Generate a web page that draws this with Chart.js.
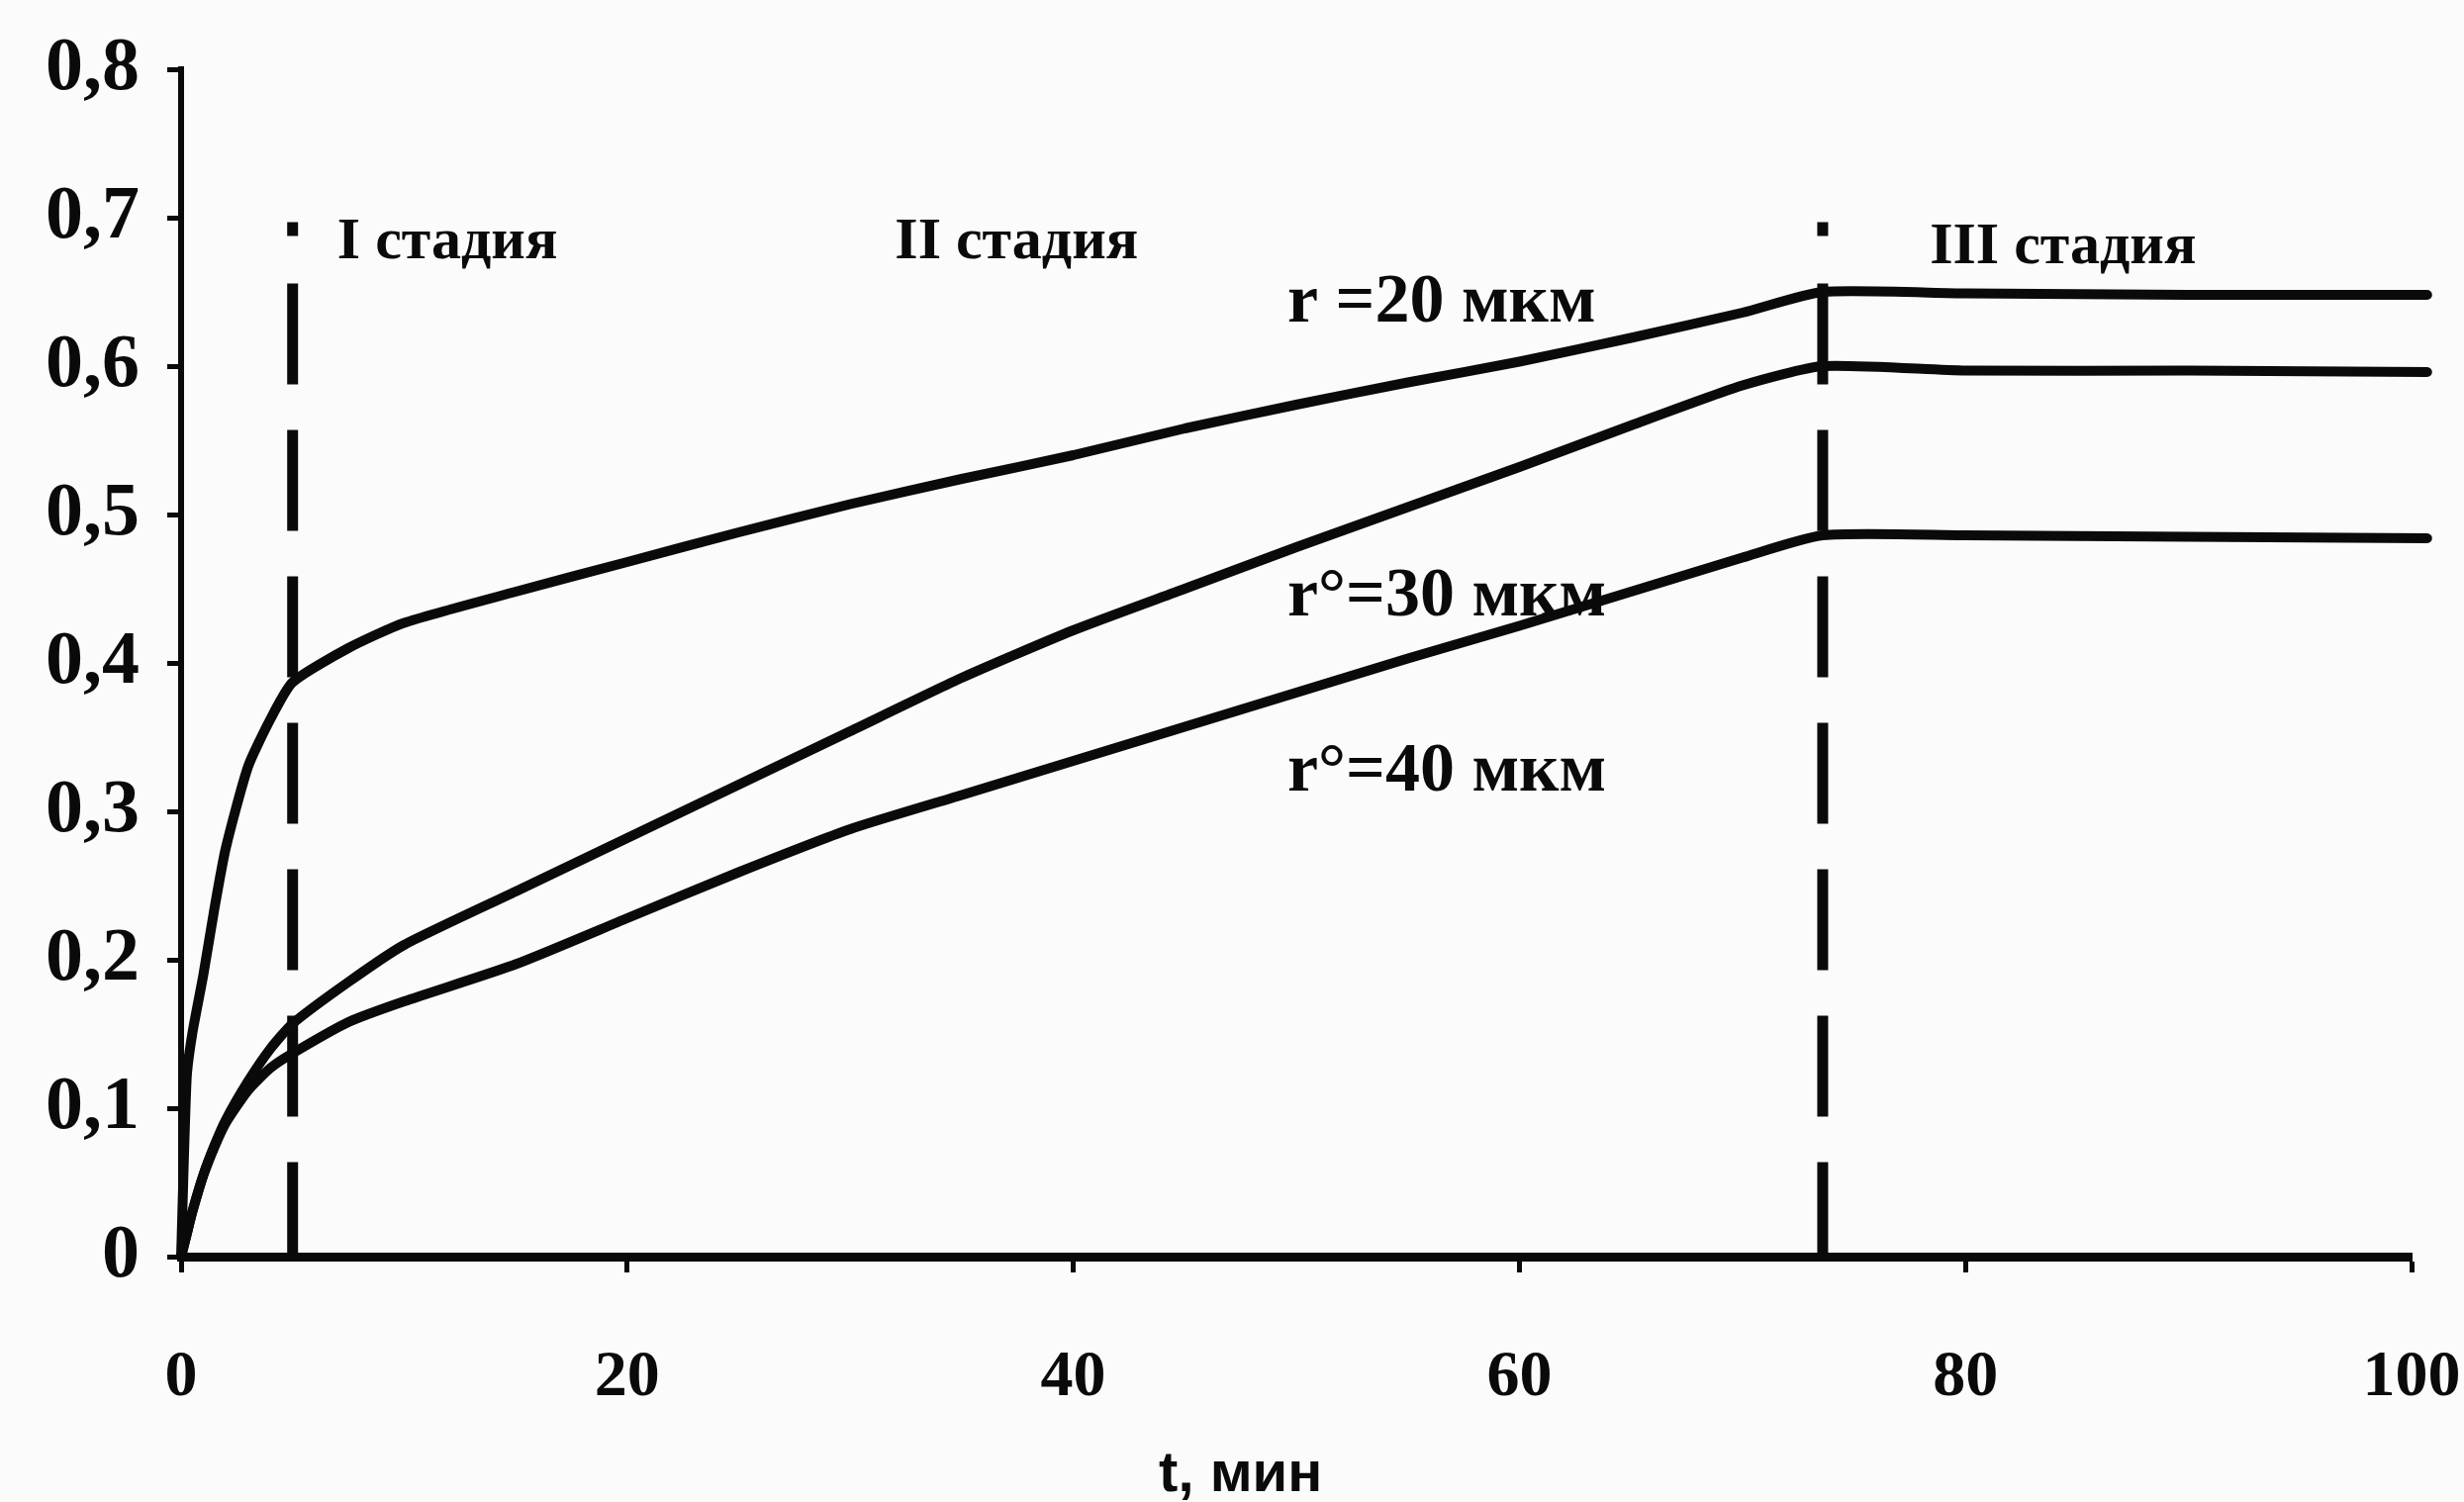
<!DOCTYPE html>
<html>
<head>
<meta charset="utf-8">
<script src="https://cdn.jsdelivr.net/npm/chart.js@4.4.1/dist/chart.umd.min.js"></script>
<style>
  html, body { margin: 0; padding: 0; background: #fbfbfb; }
  canvas { display: block; }
</style>
</head>
<body>
<canvas id="chart" width="2490" height="1518"></canvas>
<script>
// time, min (curves run a little past the last tick)
const timeMin = [0, 0.25, 0.5, 1, 1.5, 2, 3, 4, 5, 7.5, 10, 15, 20, 25, 30, 35, 40, 45, 50, 55, 60, 65, 70, 73.6, 80, 90, 100.7];

// r0 = 20 um
const r20 = [0, 0.12, 0.15, 0.19, 0.235, 0.275, 0.33, 0.362, 0.387, 0.41, 0.427, 0.448, 0.468, 0.488, 0.507, 0.524, 0.54, 0.558, 0.574, 0.589, 0.603, 0.619, 0.636, 0.65, 0.649, 0.648, 0.648];
// r0 = 30 um
const r30 = [0, 0.015, 0.03, 0.055, 0.075, 0.092, 0.118, 0.14, 0.157, 0.185, 0.21, 0.246, 0.282, 0.318, 0.354, 0.39, 0.422, 0.45, 0.478, 0.505, 0.532, 0.56, 0.587, 0.6, 0.597, 0.597, 0.596];
// r0 = 40 um
const r40 = [0, 0.015, 0.03, 0.055, 0.074, 0.09, 0.112, 0.127, 0.137, 0.158, 0.172, 0.197, 0.228, 0.259, 0.288, 0.311, 0.334, 0.357, 0.38, 0.403, 0.425, 0.448, 0.471, 0.486, 0.486, 0.485, 0.484];

// stage boundaries (min) and top of the dashed markers
const stageBounds = [5, 73.6];
const stageTop = 0.697;

const stageLabels = ["I стадия", "II стадия", "III стадия"];
const curveLabels = ["r =20 мкм", "r°=30 мкм", "r°=40 мкм"];
const xTitle = "t, мин";

const xTicks = [0, 20, 40, 60, 80, 100];
const yTicks = [0, 0.1, 0.2, 0.3, 0.4, 0.5, 0.6, 0.7, 0.8];

const INK = "#0a0a0a";

function toPoints(ys) {
  return timeMin.map((t, i) => ({ x: t, y: ys[i] }));
}

// dot first, then long dashes
const stageDash = [14, 48].concat(Array(10).fill([102, 46]).flat());

const stageSets = stageBounds.map((t) => ({
  data: [{ x: t, y: stageTop }, { x: t, y: 0 }],
  borderColor: INK,
  borderWidth: 11,
  borderDash: stageDash,
  borderCapStyle: "butt",
  pointRadius: 0,
  clip: false,
}));

const curveSets = [r20, r30, r40].map((ys) => ({
  data: toPoints(ys),
  borderColor: INK,
  borderWidth: 10,
  pointRadius: 0,
  tension: 0.2,
  borderJoinStyle: "round",
  borderCapStyle: "round",
  clip: false,
}));

// text placed in data units
const textPlugin = {
  id: "notes",
  afterDraw(chart) {
    const { ctx, scales: { x, y } } = chart;
    ctx.save();
    ctx.fillStyle = INK;
    ctx.textBaseline = "middle";
    ctx.textAlign = "left";

    ctx.font = "bold 60px 'Liberation Serif'";
    const stageAt = [[7.0, 0.683], [32.0, 0.683], [78.4, 0.68]];
    stageLabels.forEach((s, i) => {
      ctx.fillText(s, x.getPixelForValue(stageAt[i][0]), y.getPixelForValue(stageAt[i][1]));
    });

    ctx.font = "bold 70px 'Liberation Serif'";
    const curveAt = [[49.6, 0.642], [49.6, 0.444], [49.6, 0.326]];
    curveLabels.forEach((s, i) => {
      ctx.fillText(s, x.getPixelForValue(curveAt[i][0]), y.getPixelForValue(curveAt[i][1]));
    });

    // axis title sits a bit left of the plot centre
    ctx.textAlign = "center";
    ctx.font = "bold 58px 'Liberation Sans'";
    ctx.fillText(xTitle, x.getPixelForValue(47.5), chart.height - 27);
    ctx.restore();
  },
};

new Chart(document.getElementById("chart"), {
  type: "line",
  data: { datasets: stageSets.concat(curveSets) },
  options: {
    responsive: false,
    animation: false,
    events: [],
    layout: { padding: { left: 0, right: 53, top: 70, bottom: 0 } },
    plugins: { legend: { display: false }, tooltip: { enabled: false } },
    scales: {
      x: {
        type: "linear",
        min: 0,
        max: 100,
        afterBuildTicks: (s) => { s.ticks = xTicks.map((v) => ({ value: v })); },
        afterFit: (s) => { s.height = 248; s.paddingRight = 0; s.paddingLeft = 0; },
        border: { display: true, color: INK, width: 9 },
        grid: { drawOnChartArea: false, drawTicks: true, tickLength: 16, tickWidth: 5, tickColor: INK },
        ticks: {
          color: INK,
          padding: 67,
          maxRotation: 0,
          font: { family: "'Liberation Serif'", weight: "bold", size: 66 },
        },
      },
      y: {
        type: "linear",
        min: 0,
        max: 0.8,
        afterBuildTicks: (s) => { s.ticks = yTicks.map((v) => ({ value: v })); },
        afterFit: (s) => { s.width = 183; s.paddingTop = 0; s.paddingBottom = 0; },
        border: { display: true, color: INK, width: 6 },
        grid: { drawOnChartArea: false, drawTicks: true, tickLength: 14, tickWidth: 5, tickColor: INK },
        ticks: {
          color: INK,
          padding: 28,
          font: { family: "'Liberation Serif'", weight: "bold", size: 76 },
          callback: (v) => (v === 0 ? "0" : v.toFixed(1).replace(".", ",")),
        },
      },
    },
  },
  plugins: [textPlugin],
});
</script>
</body>
</html>
